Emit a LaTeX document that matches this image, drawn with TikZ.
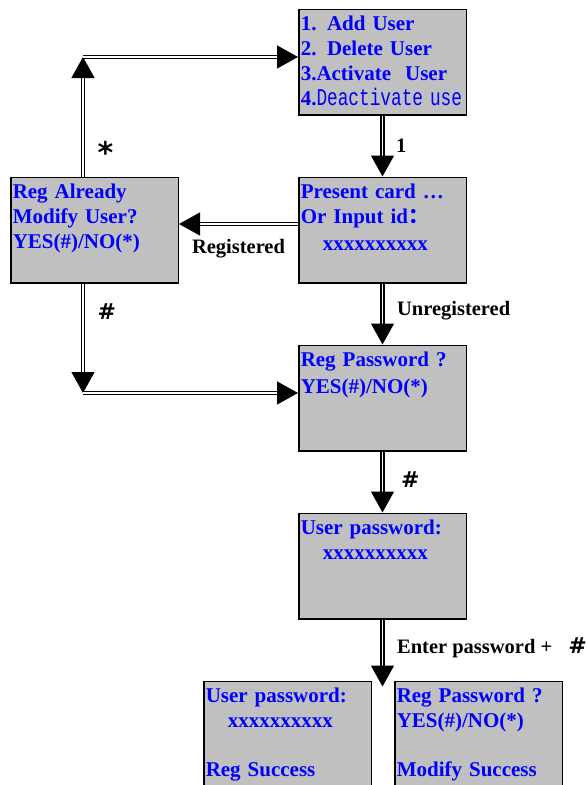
\documentclass[tikz,border=0pt]{standalone}
\usepackage{fontspec}
\setmainfont{Liberation Serif}
\newfontfamily\cjk{Noto Sans CJK SC}
\newfontfamily\narrowmono[FakeStretch=0.74]{Liberation Mono}
\newfontfamily\keyfont{DejaVu Sans}
\usetikzlibrary{positioning,arrows.meta}
\definecolor{screengray}{RGB}{192,192,192}
\definecolor{screenblue}{RGB}{0,0,255}

\begin{document}
\begin{tikzpicture}[x=1pt,y=-1pt,
screen/.style={rectangle, draw=black, fill=screengray, line width=1.5pt, text=screenblue, font=\bfseries\fontsize{21}{25}\selectfont, align=left, text width=163.5pt, inner sep=2pt, text height=19pt, text depth=82.5pt},
dblarrow/.style={double, double distance=1.8pt, line width=1.2pt, -{Triangle[length=21pt,width=23pt]}},
lbl/.style={font=\bfseries\fontsize{20.5}{24}\selectfont, inner sep=0pt},
keylbl/.style={font=\keyfont\bfseries\fontsize{22}{24}\selectfont, inner sep=0pt},
]
\useasboundingbox (0,0) rectangle (586,785);

%Nodes
\node[screen]      (menu)       at (382.5,62)  {1. Add User\\2. Delete User\\3.Activate\ \ User\\4.{\narrowmono\mdseries\fontsize{24}{25}\selectfont Deactivate use}};
\node[screen]      (card)       [below=61pt of menu] {Present card …\\Or Input id{\cjk ：}\\[2pt]\hspace*{22pt}xxxxxxxxxx};
\node[screen]      (regalready) [left=119pt of card] {Reg Already\\Modify User?\\YES(\#)/NO(*)};
\node[screen]      (regpw)      [below=61pt of card] {Reg Password ?\\[2pt]YES(\#)/NO(*)};
\node[screen]      (userpw)     [below=61pt of regpw] {User password:\\\hspace*{22pt}xxxxxxxxxx};
\node[screen]      (regok)      [below=61pt of userpw, xshift=-95pt] {User password:\\\hspace*{22pt}xxxxxxxxxx\\[24pt]Reg Success};
\node[screen]      (modok)      [below=61pt of userpw, xshift=96pt] {Reg Password ?\\YES(\#)/NO(*)\\[24pt]Modify Success};

\coordinate (upturn)   at (83,57);
\coordinate (downturn) at (83,393);
\coordinate[below=67pt of userpw.south] (split);

%Lines
\draw[dblarrow] (menu) -- node[lbl, right=13pt] (lblone) {1} (card);
\draw[dblarrow] (card) -- node[lbl, right=14pt, yshift=3pt] (lblunreg) {Unregistered} (regpw);
\draw[dblarrow] (regpw) -- node[keylbl, right=18pt, yshift=2pt] (lblhash) {\#} (userpw);
\draw[dblarrow] (userpw) -- node[lbl, right=14pt, yshift=5pt] (lblenter) {Enter password +\hspace{16pt}{\keyfont\fontsize{22}{24}\selectfont\#}} (split);
\draw[dblarrow] ([yshift=6pt]card.west) -- node[lbl, below=15pt] (lblreg) {Registered} ([yshift=6pt]regalready.east);

\draw[dblarrow] (upturn |- regalready.north) -- node[keylbl, pos=0.25, right=14pt, yshift=-6pt] (lblstar) {\fontsize{30}{30}\selectfont *} (upturn);
\draw[dblarrow] (upturn) -- (upturn -| menu.west);
\draw[dblarrow] (downturn |- regalready.south) -- node[keylbl, pos=0.26, right=14pt] (lblhashtwo) {\#} (downturn);
\draw[dblarrow] (downturn) -- (downturn -| regpw.west);

\end{tikzpicture}
\end{document}
